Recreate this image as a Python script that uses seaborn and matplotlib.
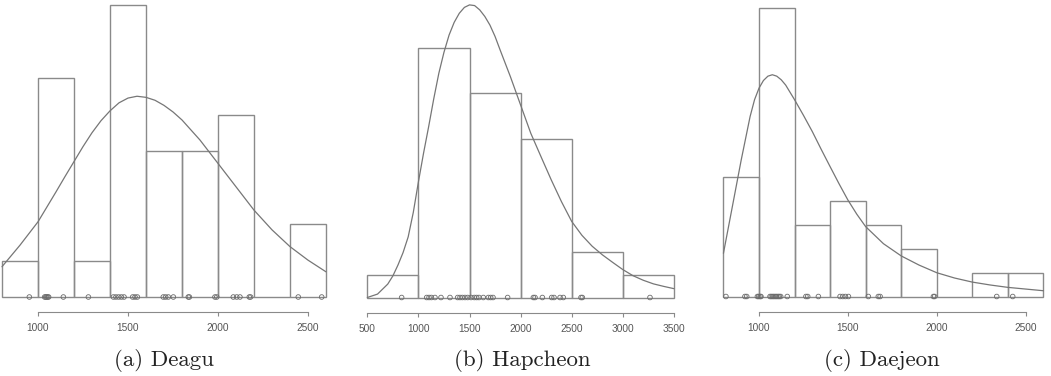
import numpy as np
import pandas as pd
import matplotlib
matplotlib.use("Agg")
import matplotlib.pyplot as plt
import seaborn as sns

# ---------------- data ----------------
# (a) Deagu
a_edges = [800, 1000, 1200, 1400, 1600, 1800, 2000, 2200, 2400, 2600]
a_counts = [1, 6, 1, 8, 4, 4, 5, 0, 2]
a_rug = [952, 1037, 1043, 1048, 1054, 1059, 1141, 1280, 1419, 1433, 1448, 1463,
         1478, 1526, 1539, 1552, 1696, 1709, 1724, 1752, 1835, 1841, 1983, 1993,
         2085, 2104, 2122, 2174, 2181, 2446, 2576]
a_curve_x = [800, 900, 1000, 1100, 1150, 1200, 1250, 1300, 1350, 1400, 1450, 1500,
             1550, 1600, 1650, 1700, 1750, 1800, 1900, 2000, 2100, 2200, 2300,
             2400, 2500, 2600]
a_curve_y = [0.83, 1.42, 2.06, 2.88, 3.30, 3.71, 4.12, 4.50, 4.83, 5.10, 5.32, 5.45,
             5.50, 5.47, 5.39, 5.25, 5.07, 4.85, 4.30, 3.66, 3.02, 2.38, 1.84,
             1.38, 1.01, 0.69]
a_ticks = [1000, 1500, 2000, 2500]

# (b) Hapcheon
b_edges = [500, 1000, 1500, 2000, 2500, 3000, 3500]
b_counts = [1, 11, 9, 7, 2, 1]
b_rug = [836, 1081, 1104, 1127, 1162, 1221, 1309, 1384, 1407, 1430, 1456, 1482,
         1515, 1547, 1570, 1593, 1635, 1684, 1707, 1730, 1873, 2125, 2141, 2213,
         2304, 2327, 2386, 2418, 2591, 2604, 3266]
b_curve_x = [500, 600, 700, 750, 800, 850, 900, 950, 1000, 1050, 1100, 1150, 1200,
             1250, 1300, 1350, 1400, 1450, 1500, 1550, 1600, 1650, 1700, 1750,
             1800, 1900, 2000, 2100, 2200, 2300, 2400, 2500, 2600, 2700, 2800,
             2900, 3000, 3100, 3200, 3300, 3400, 3500]
b_curve_y = [0.0, 0.15, 0.59, 0.95, 1.43, 1.98, 2.67, 3.75, 5.09, 6.35, 7.52, 8.75,
             9.88, 10.8, 11.56, 12.12, 12.52, 12.78, 12.89, 12.86, 12.67, 12.38,
             12.0, 11.5, 10.9, 9.73, 8.48, 7.23, 6.2, 5.18, 4.22, 3.35, 2.74, 2.26,
             1.88, 1.55, 1.23, 0.96, 0.76, 0.6, 0.49, 0.39]
b_ticks = [500, 1000, 1500, 2000, 2500, 3000, 3500]

# (c) Daejeon
c_edges = [800, 1000, 1200, 1400, 1600, 1800, 2000, 2200, 2400, 2600]
c_counts = [5, 12, 3, 4, 3, 2, 0, 1, 1]
c_rug = [814, 921, 931, 991, 998, 1006, 1011, 1062, 1069, 1077, 1084, 1092,
         1099, 1107, 1114, 1122, 1159, 1264, 1274, 1334, 1456, 1471, 1486, 1503,
         1615, 1671, 1681, 1981, 1988, 2337, 2427]
c_curve_x = [800, 850, 900, 950, 975, 1000, 1025, 1050, 1075, 1100, 1125, 1150,
             1200, 1250, 1300, 1350, 1400, 1450, 1500, 1550, 1600, 1700, 1800,
             1900, 2000, 2100, 2200, 2300, 2400, 2500, 2600]
c_curve_y = [1.8, 3.74, 5.69, 7.5, 8.2, 8.68, 9.0, 9.18, 9.24, 9.18, 9.03, 8.81,
             8.2, 7.55, 6.87, 6.13, 5.41, 4.7, 4.02, 3.43, 2.91, 2.2, 1.69, 1.31,
             0.99, 0.77, 0.6, 0.48, 0.38, 0.31, 0.24]
c_ticks = [1000, 1500, 2000, 2500]

captions = ["(a) Deagu", "(b) Hapcheon", "(c) Daejeon"]

# ---------------- figure ----------------
sns.set_style("white")
W, H = 1051, 376
fig = plt.figure(figsize=(W / 100, H / 100), dpi=100)

panels = [
    dict(edges=a_edges, counts=a_counts, rug=a_rug, cx=a_curve_x, cy=a_curve_y,
         ticks=a_ticks, px=(0, 340), base=297.0, unit=36.5, xlim=(788.9, 2677.8),
         cap_x=164),
    dict(edges=b_edges, counts=b_counts, rug=b_rug, cx=b_curve_x, cy=b_curve_y,
         ticks=b_ticks, px=(355, 685), base=297.5, unit=22.7, xlim=(379.6, 3608.6),
         cap_x=522),
    dict(edges=c_edges, counts=c_counts, rug=c_rug, cx=c_curve_x, cy=c_curve_y,
         ticks=c_ticks, px=(700, 1051), base=296.5, unit=24.0, xlim=(668.2, 2642.3),
         cap_x=882),
]

bar_col = "#8a8a8a"
curve_col = "#767676"
rug_col = "#6a6a6a"
axis_col = "#8a8a8a"

for p, cap in zip(panels, captions):
    l, r = p["px"]
    ax = fig.add_axes([l / W, (H - p["base"]) / H, (r - l) / W, p["base"] / H])
    edges = [float(e) for e in p["edges"]]
    centers = [(edges[i] + edges[i + 1]) / 2 for i in range(len(edges) - 1)]
    df = pd.DataFrame({"x": centers, "w": p["counts"]})
    sns.histplot(data=df, x="x", weights="w", bins=edges, ax=ax,
                 fill=False, color=bar_col, linewidth=1.0, element="bars")
    for patch in ax.patches:
        patch.set_clip_on(False)
    sns.lineplot(x=p["cx"], y=p["cy"], ax=ax, color=curve_col, linewidth=0.9,
                 sort=False)
    for ln in ax.lines:
        ln.set_clip_on(False)
        ln.set_solid_joinstyle("round")
    ax.scatter(p["rug"], np.zeros(len(p["rug"])), s=11, marker="o",
               facecolors="none", edgecolors=rug_col, linewidths=0.6,
               clip_on=False, zorder=3)
    ax.set_xlim(*p["xlim"])
    ax.set_ylim(0, p["base"] / p["unit"])
    ax.set_ylabel("")
    ax.set_xlabel("")
    ax.set_yticks([])
    for s in ("left", "right", "top"):
        ax.spines[s].set_visible(False)
    ax.spines["bottom"].set_position(("outward", 15 * 72 / 100))
    ax.spines["bottom"].set_bounds(p["ticks"][0], p["ticks"][-1])
    ax.spines["bottom"].set_color(axis_col)
    ax.spines["bottom"].set_linewidth(0.8)
    ax.set_xticks(p["ticks"])
    ax.set_xticklabels([str(t) for t in p["ticks"]])
    ax.tick_params(axis="x", direction="out", length=3, width=0.8,
                   color=axis_col, pad=5.0, labelsize=7.3, labelcolor="#555555",
                   bottom=True)
    for t in ax.get_xticklabels():
        t.set_fontfamily(["Liberation Sans", "DejaVu Sans"])
    ax.patch.set_alpha(0)
    fig.text(p["cap_x"] / W, 1 - 361 / H, cap, ha="center", va="center",
             fontsize=16.5, fontfamily=["cmr10", "DejaVu Serif"], color="#222222")

fig.savefig("out.png", dpi=100)
